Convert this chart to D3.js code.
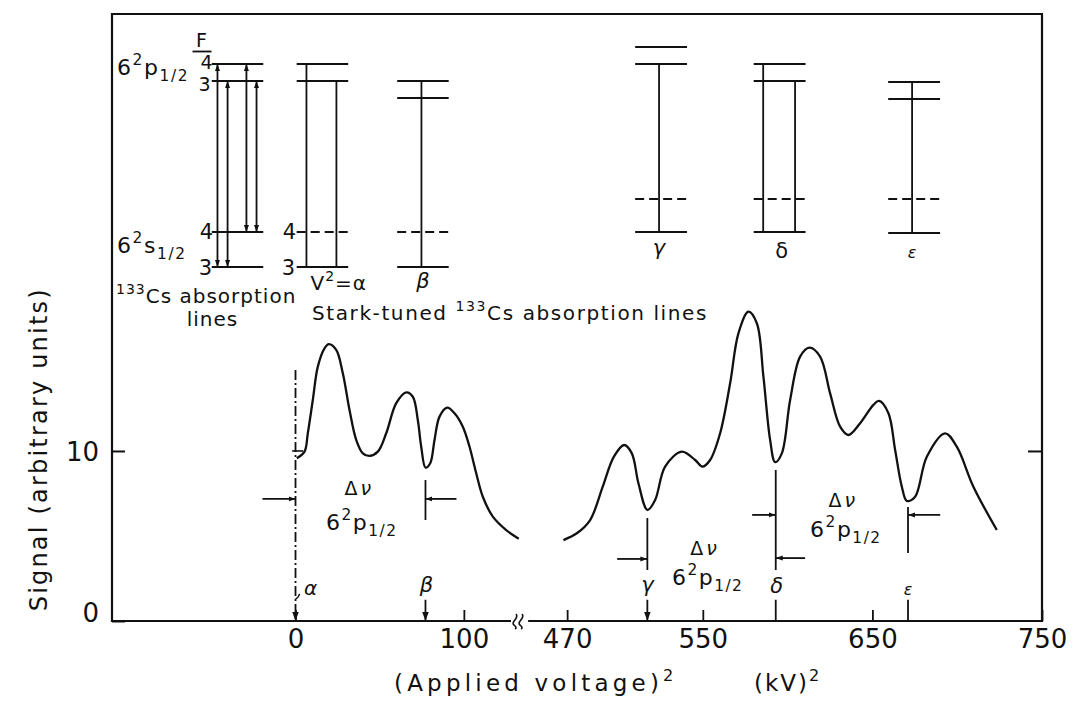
<!DOCTYPE html>
<html><head><meta charset="utf-8">
<script src="https://cdn.jsdelivr.net/npm/d3@7"></script>
<style>
body{margin:0;background:#fff}
svg{display:block}
text{font-family:"DejaVu Sans",sans-serif;fill:#111}
</style>
</head><body>
<svg id="c" width="1073" height="704"></svg>
<script>
// ---------------- data ----------------
const leftVoltage = [0.77,5.35,7.31,10.28,13.25,17.23,19.78,24.18,28.1,32.08,36.06,40.0,43.96,48.89,53.88,59.82,65.76,69.68,72.65,74.67,77.22,80.01,82.57,85.54,90.11,94.45,99.38,103.36,107.34,111.26,117.2,125.16,132.6];
const leftSignal  = [9.57,9.96,11.04,13.0,14.96,16.04,16.28,15.94,14.57,12.41,10.65,9.86,9.71,9.96,11.04,12.81,13.45,13.19,11.82,10.25,9.02,9.28,10.65,12.02,12.55,12.22,11.43,10.25,8.69,7.31,6.14,5.35,4.84];
const rightVoltage = [467.82,475.72,483.56,491.0,497.5,503.61,508.15,512.04,517.35,521.89,527.78,537.63,545.47,549.78,554.32,560.21,566.11,571.0,576.9,581.85,585.74,589.69,592.64,596.59,601.49,607.38,612.87,619.17,625.07,630.97,635.86,642.76,650.6,653.96,659.45,663.4,667.35,670.3,675.19,682.08,692.88,699.76,709.55,723.35];
const rightSignal  = [4.76,5.16,5.94,7.9,9.65,10.35,9.86,8.1,6.53,7.12,9.08,9.96,9.47,9.08,9.47,11.04,13.98,16.92,18.19,17.51,14.37,10.65,9.34,9.86,13.0,15.55,16.08,15.55,13.39,11.43,10.94,11.63,12.71,12.94,12.22,10.06,7.9,7.06,7.31,9.66,11.04,10.25,7.9,5.35];

const markerNames  = ["α","β","γ","δ","ε"];
const markerValues = [0, 77.2, 517.3, 593, 671];

const xTicksLeft  = [0, 100];
const xTicksRight = [470, 550, 650, 750];
const yTicks = [0, 10];

// energy-level schematic (level energies in signal units, centres in voltage² units)
const diagramNames   = ["", "V²=α", "β", "γ", "δ", "ε"];
const diagramCenters = [-34.45, 16.0, 75.7, 525.4, 595.3, 674.6];
const diagramLevels = [
  [[11.94,0],[10.94,0],[2.06,0],[0,0]],
  [[11.94,0],[10.94,0],[2.06,1],[0,0]],
  [[10.94,0],[9.94,0],[2.06,1],[0,0]],
  [[12.94,0],[11.94,0],[4.0,1],[2.06,0]],
  [[11.94,0],[10.94,0],[4.0,1],[2.06,0]],
  [[10.88,0],[9.88,0],[4.0,1],[2.0,0]]
];
// transitions: [offset, upper, lower, doubleArrow]
const diagramLines = [
  [[-11.9,11.94,0,1],[-5.9,10.94,0,1],[5.3,11.94,2.06,1],[11.3,10.94,2.06,1]],
  [[-9.5,11.94,0,0],[8.3,10.94,0,0]],
  [[-0.9,10.94,0,0]],
  [[-1.2,11.94,2.06,0]],
  [[-9.7,11.94,2.06,0],[9.1,10.94,2.06,0]],
  [[-1.2,10.88,2.0,0]]
];

// ---------------- scales ----------------
const svg = d3.select("#c");
const xL = d3.scaleLinear().domain([-109, 128]).range([112, 511]);
const xR = d3.scaleLinear().domain([454, 750]).range([540, 1042]);
const X = v => v < 300 ? xL(v) : xR(v);
const y = d3.scaleLinear().domain([0, 35.7]).range([621, 14]);
const yE = d3.scaleLinear().domain([0, 13]).range([267, 46]);

const defs = svg.append("defs");
function mk(id, w, l){
  defs.append("marker").attr("id", id)
    .attr("viewBox", "0 0 10 10").attr("refX", 10).attr("refY", 5)
    .attr("markerWidth", l).attr("markerHeight", l)
    .attr("markerUnits", "userSpaceOnUse").attr("orient", "auto-start-reverse")
    .append("path").attr("d", `M0,${5-w} L10,5 L0,${5+w} Z`).attr("fill", "#111");
}
mk("ah", 3.6, 9);
mk("sh", 3.6, 7);

function rich(g, x, yy, parts, size, anchor, ls){
  const t = g.append("text").attr("x", x).attr("y", yy).attr("font-size", size)
    .attr("text-anchor", anchor || "start").attr("letter-spacing", ls == null ? 1 : ls);
  let cur = 0;
  parts.forEach(p => {
    const target = p.sup ? -size * 0.45 : p.sub ? size * 0.25 : 0;
    const ts = t.append("tspan").text(p.t).attr("dy", target - cur);
    if (p.sup || p.sub) ts.attr("font-size", size * 0.7);
    cur = target;
  });
  return t;
}
const p12 = [{t:"6"},{t:"2",sup:1},{t:"p"},{t:"1/2",sub:1}];
const s12 = [{t:"6"},{t:"2",sup:1},{t:"s"},{t:"1/2",sub:1}];

const ink = "#111";
const g = svg.append("g").attr("stroke-linecap", "butt");

// ---------------- frame & axes ----------------
g.append("path").attr("fill","none").attr("stroke",ink).attr("stroke-width",2.2)
  .attr("d", `M${xL(128)},${y(0)} L${xL.range()[0]},${y(0)} L${xL.range()[0]},${y.range()[1]} L${xR.range()[1]},${y.range()[1]} L${xR.range()[1]},${y(0)} L${xR(447)},${y(0)}`);
// axis break squiggles
[0,6].forEach(o=>{
  const bx = xL(128) + 3 + o, by = y(0);
  g.append("path").attr("fill","none").attr("stroke",ink).attr("stroke-width",1.6)
    .attr("d", `M${bx+2},${by-7} C${bx+6},${by-3} ${bx-4},${by+1} ${bx},${by+4} C${bx+2},${by+6} ${bx+3},${by+7} ${bx+1},${by+8}`);
});

const axL = d3.axisBottom(xL).tickValues(xTicksLeft).tickSize(-11).tickPadding(9).tickFormat(d3.format("d"));
const axR = d3.axisBottom(xR).tickValues(xTicksRight).tickSize(-11).tickPadding(9).tickFormat(d3.format("d"));
[axL, axR].forEach(ax=>{
  const a = svg.append("g").attr("transform", `translate(0,${y(0)})`).call(ax);
  a.select(".domain").remove();
  a.selectAll("line").attr("stroke", ink).attr("stroke-width", 1.8);
  a.selectAll("text").attr("font-size", 26).attr("fill", ink).attr("font-family", "DejaVu Sans");
});
const ayL = svg.append("g").attr("transform", `translate(${xL.range()[0]},0)`)
  .call(d3.axisLeft(y).tickValues(yTicks).tickSize(-13).tickPadding(13).tickFormat(d3.format("d")));
ayL.select(".domain").remove();
ayL.selectAll("line").attr("stroke", ink).attr("stroke-width", 2);
ayL.selectAll("text").attr("font-size", 26).attr("fill", ink).attr("font-family", "DejaVu Sans")
  .attr("dy", d => d === 0 ? "0" : "0.35em");
const ayR = svg.append("g").attr("transform", `translate(${xR.range()[1]},0)`)
  .call(d3.axisRight(y).tickValues([10]).tickSize(-14).tickFormat(""));
ayR.select(".domain").remove();
ayR.selectAll("line").attr("stroke", ink).attr("stroke-width", 2);

// axis titles
svg.append("text").attr("transform", `translate(47,${y(10.1)}) rotate(-90)`)
  .attr("text-anchor", "middle").attr("font-size", 24).attr("letter-spacing", 2.2)
  .text("Signal (arbitrary units)");
rich(svg, 394, 691, [{t:"(Applied voltage)"},{t:"2",sup:1}], 23, "start", 4.2);
rich(svg, 754, 691, [{t:"(kV)"},{t:"2",sup:1}], 23, "start", 2);

// ---------------- signal curves ----------------
const line = d3.line().x(d => X(d[0])).y(d => y(d[1])).curve(d3.curveCatmullRom.alpha(0.5));
[[leftVoltage,leftSignal],[rightVoltage,rightSignal]].forEach(([vx,vy])=>{
  g.append("path").datum(d3.zip(vx, vy)).attr("d", line)
    .attr("fill","none").attr("stroke",ink).attr("stroke-width",2.3).attr("stroke-linejoin","round");
});

// ---------------- markers α..ε ----------------
const seg = (x1,y1,x2,y2,opt={}) => {
  const l = g.append("line").attr("x1",x1).attr("y1",y1).attr("x2",x2).attr("y2",y2)
    .attr("stroke",ink).attr("stroke-width",opt.w||1.8);
  if (opt.end) l.attr("marker-end", `url(#${opt.end})`);
  if (opt.dash) l.attr("stroke-dasharray", opt.dash);
  return l;
};
// α dash-dot line
seg(X(markerValues[0]), y(14.76), X(markerValues[0]), y(0), {dash:"10,3,2,3", end:"ah", w:1.8});
seg(X(-2), y(10), X(4.5), y(10), {w:1.6});
g.append("path").attr("fill","none").attr("stroke",ink).attr("stroke-width",1.4)
  .attr("d", `M${X(0)},${y(1.3)} q3,-1 4,-5`);
// β, γ arrows; δ, ε ticks
seg(X(markerValues[1]), y(1.25), X(markerValues[1]), y(0), {end:"ah"});
seg(X(markerValues[2]), y(1.25), X(markerValues[2]), y(0), {end:"ah"});
seg(X(markerValues[3]), y(1.25), X(markerValues[3]), y(0));
seg(X(markerValues[4]), y(1.25), X(markerValues[4]), y(0));

const lab = (x, yy, t, size, style) => svg.append("text").attr("x", x).attr("y", yy)
  .attr("text-anchor","middle").attr("font-size", size).attr("font-style", style||"normal").text(t);
lab(X(markerValues[0]) + 15, y(1.53), markerNames[0], 20, "italic");
lab(X(markerValues[1]) + 1, y(1.7), markerNames[1], 21, "italic");
lab(X(markerValues[2]), y(1.7), markerNames[2], 21, "italic");
lab(X(markerValues[3]) + 1, y(1.65), markerNames[3], 21, "italic");
lab(X(markerValues[4]), y(1.53), markerNames[4], 16, "italic");

// Δν brackets
seg(X(-19.6), y(7.18), X(markerValues[0]), y(7.18), {end:"sh"});
seg(X(markerValues[1]), y(8.29), X(markerValues[1]), y(5.94));
seg(X(95.6), y(7.18), X(markerValues[1]), y(7.18), {end:"sh"});
seg(X(markerValues[2]), y(6.06), X(markerValues[2]), y(3.0));
seg(X(499.5), y(3.65), X(markerValues[2]), y(3.65), {end:"sh"});
seg(X(markerValues[3]), y(8.88), X(markerValues[3]), y(3.0));
seg(X(579.1), y(6.24), X(markerValues[3]), y(6.24), {end:"sh"});
seg(X(610.3), y(3.7), X(markerValues[3]), y(3.7), {end:"sh"});
seg(X(markerValues[4]), y(6.7), X(markerValues[4]), y(4.0));
seg(X(690), y(6.24), X(markerValues[4]), y(6.24), {end:"sh"});

function dnu(cx, yTop, yBot){
  const t = svg.append("text").attr("x", cx).attr("y", yTop).attr("text-anchor","middle").attr("font-size", 19);
  t.append("tspan").text("Δ");
  t.append("tspan").text("ν").attr("font-style","italic").attr("dx", 3);
  rich(svg, cx + 4, yBot, p12, 22, "middle", 1.5);
}
dnu(X(37), 495, 530);
dnu(X(550.5), 555, 585);
dnu(X(632), 507, 537);

// ---------------- energy level schematics ----------------
const halfW = 15.3;
diagramCenters.forEach((c, i) => {
  const dg = svg.append("g");
  diagramLevels[i].forEach(([e, dashed]) => {
    const l = dg.append("line").attr("x1", X(c - halfW)).attr("x2", X(c + halfW))
      .attr("y1", yE(e)).attr("y2", yE(e)).attr("stroke", ink).attr("stroke-width", 1.9);
    if (dashed) l.attr("stroke-dasharray", "9,5");
  });
  diagramLines[i].forEach(([dx, hi, lo, dbl]) => {
    const l = dg.append("line").attr("x1", X(c + dx)).attr("x2", X(c + dx))
      .attr("y1", yE(hi)).attr("y2", yE(lo)).attr("stroke", ink).attr("stroke-width", 1.8);
    if (dbl) l.attr("marker-start", "url(#sh)").attr("marker-end", "url(#sh)");
  });
});
// labels of schematic
const c0 = X(diagramCenters[0]), c1 = X(diagramCenters[1]);
lab(c0 - 36, 47, "F", 19);
g.append("line").attr("x1", c0 - 45).attr("x2", c0 - 26).attr("y1", 51.5).attr("y2", 51.5).attr("stroke", ink).attr("stroke-width", 1.8);
lab(c0 - 31, 69, "4", 19);
lab(c0 - 33, 91, "3", 19);
lab(c0 - 31, yE(2.06) + 7.5, "4", 21);
lab(c0 - 32, yE(0) + 8, "3", 21);
lab(c1 - 33, yE(2.06) + 7.5, "4", 21);
lab(c1 - 34, yE(0) + 8, "3", 21);
rich(svg, 117, 75, p12, 22, "start", 1.6);
rich(svg, 117, 253, s12, 22, "start", 1.6);
rich(svg, 116, 303, [{t:"133",sup:1},{t:"Cs absorption"}], 20);
lab(c0 - 25, 326, "lines", 20).attr("letter-spacing", 1);
rich(svg, c1 - 12, 290, [{t:"V"},{t:"2",sup:1},{t:"="},{t:"α"}], 20);
rich(svg, 312, 320, [{t:"Stark-tuned "},{t:"133",sup:1},{t:"Cs absorption lines"}], 20, "start", 1.6);
lab(X(diagramCenters[2]), 288, diagramNames[2], 21, "italic");
lab(X(diagramCenters[3]) - 2, 255, diagramNames[3], 21, "italic");
lab(X(diagramCenters[4]) + 2, 258, diagramNames[4], 21);
lab(X(diagramCenters[5]) - 2, 258, diagramNames[5], 16, "italic");
</script>
</body></html>
